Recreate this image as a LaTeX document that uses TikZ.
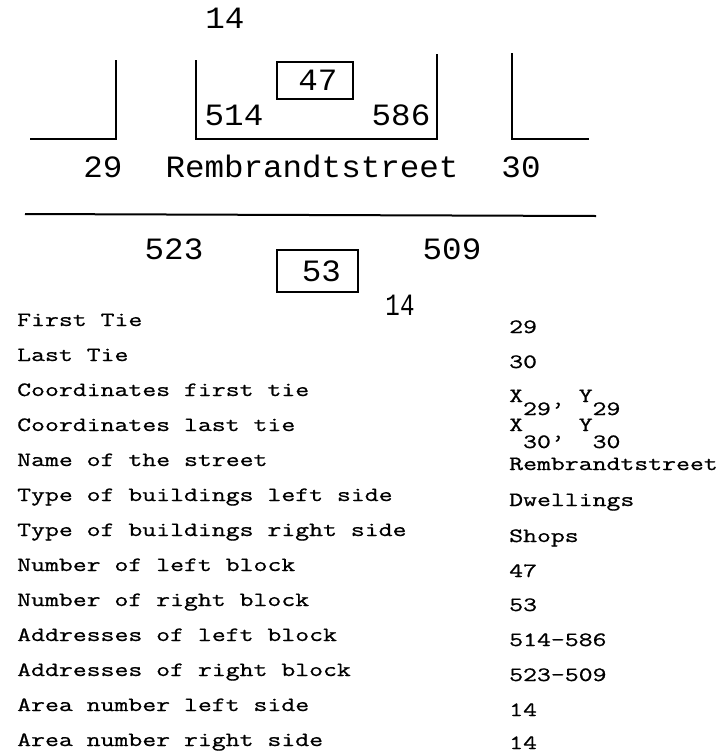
\documentclass[tikz,border=0pt]{standalone}
\usepackage{fontspec}
\newfontfamily\diafont[FakeStretch=1.05]{Liberation Mono}
\newfontfamily\narrowfont[FakeStretch=0.78]{Liberation Mono}
\newfontfamily\tabfont[FakeStretch=1.33,FakeBold=0.8]{Latin Modern Mono}
\begin{document}
\begin{tikzpicture}[x=1pt,y=-1pt,
  dia/.style={font=\diafont\fontsize{31}{31}\selectfont, inner sep=0pt, anchor=base},
  tab/.style={font=\tabfont\fontsize{20.3}{21}\selectfont, inner sep=0pt, anchor=base west},
  wall/.style={line width=2pt},
  blockbox/.style={draw, line width=1.6pt, font=\diafont\fontsize{31}{31}\selectfont, inner sep=0pt}]
\useasboundingbox (0,0) rectangle (717,753);
% street drawing
\draw[wall] (30,139) -- (116,139) -- (116,60);
\draw[wall] (196,60) -- (196,139) -- (437,139) -- (437,54);
\draw[wall] (512,53) -- (512,139) -- (589,139);
\draw[wall] (25,214) -- (596,216);
\node[dia] (area1) at (225,28) {14};
\node[blockbox, minimum width=76pt, minimum height=37pt] (b47) at (315,80.5) {\hspace*{6pt}47};
\node[dia] (a514) at (234,125) {514};
\node[dia] (a586) at (401,125) {586};
\node[dia] (t29) at (103,177) {29};
\node[dia] (street) at (312,177) {Rembrandtstreet};
\node[dia] (t30) at (521,177) {30};
\node[dia] (a523) at (174,259) {523};
\node[dia] (a509) at (452,259) {509};
\node[blockbox, minimum width=81pt, minimum height=42pt] (b53) at (317.5,271) {\hspace*{8pt}53};
\node[dia, font=\narrowfont\fontsize{31}{31}\selectfont] (area2) at (400,315) {14};
% table
\foreach \i/\txt in {0/First Tie, 1/Last Tie, 2/Coordinates first tie, 3/Coordinates last tie,
  4/Name of the street, 5/Type of buildings left side, 6/Type of buildings right side,
  7/Number of left block, 8/Number of right block, 9/Addresses of left block,
  10/Addresses of right block, 11/Area number left side, 12/Area number right side}
  \node[tab] (lab\i) at (17,326+35*\i) {\txt};
\node[tab] (v0) at (509,333) {29};
\node[tab] (v1) at (509,368) {30};
\node[tab] (v2) at (509,402) {X\raisebox{-13pt}{29’} Y\raisebox{-13pt}{29}};
\node[tab] (v3) at (509,431) {X\raisebox{-17pt}{30’} Y\raisebox{-17pt}{30}};
\node[tab] (v4) at (509,470) {Rembrandtstreet};
\node[tab] (v5) at (509,506) {Dwellings};
\node[tab] (v6) at (509,542) {Shops};
\node[tab] (v7) at (509,577) {47};
\node[tab] (v8) at (509,611) {53};
\node[tab] (v9) at (509,646) {514-586};
\node[tab] (v10) at (509,681) {523-509};
\node[tab] (v11) at (509,716) {14};
\node[tab] (v12) at (509,749) {14};
\end{tikzpicture}
\end{document}
